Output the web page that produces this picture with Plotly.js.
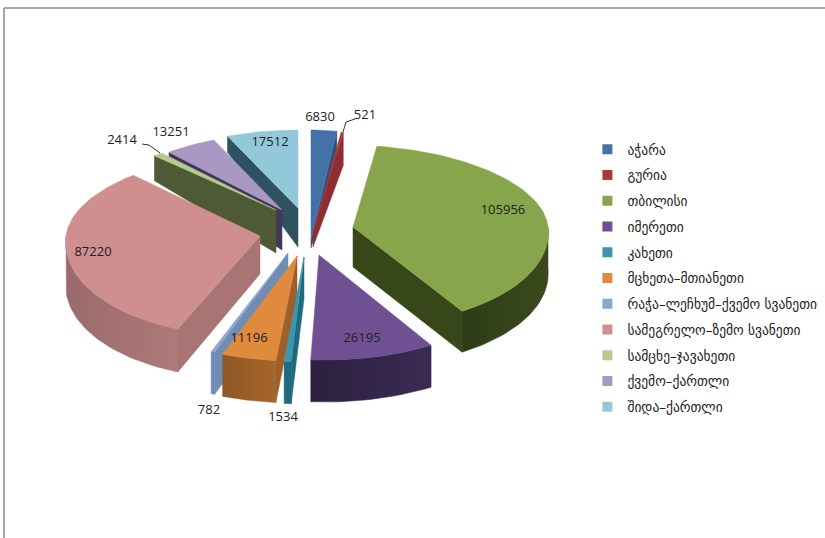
<!DOCTYPE html>
<html><head><meta charset="utf-8">
<script src="https://cdn.plot.ly/plotly-3.0.1.min.js"></script>
<style>html,body{margin:0;padding:0;background:#fff}#chart{width:825px;height:538px}</style>
</head><body><div id="chart"></div>
<script>
var regions = ['აჭარა','გურია','თბილისი','იმერეთი','კახეთი','მცხეთა–მთიანეთი','რაჭა–ლეჩხუმ–ქვემო სვანეთი','სამეგრელო–ზემო სვანეთი','სამცხე–ჯავახეთი','ქვემო–ქართლი','შიდა–ქართლი'];
var population = [6830,521,105956,26195,1534,11196,782,87220,2414,13251,17512];

var topColors  = ['#4472a8','#a83a3c','#87a54a','#6f5193','#3b97ad','#df8a3c','#8ea6cf','#cf8f8f','#b4cc8c','#a998c4','#93c8da'];
var wallColors = ['#2f5078','#8e2e30','#37471a','#32254a','#1f6a7c','#9c6028','#6f8cb5','#a87474','#4d5a35','#42365a','#2f5260'];
var rimGradient = {2:['#2e3c16','#3a4a1c'],3:['#2c2140','#3a2b52'],5:['#8f5825','#a5662b'],7:['#9a6a6a','#ae7a7a']};

// exploded-slice geometry, in picture pixels: apex x,y; radii; shear; wall depth at apex and rim
var explodeX = [311,313,353,319,304,297,288,260,276,282,298];
var explodeY = [240,232,227,255,257,256,253,236,210,210,208];
var radiusX  = [165,180,195,210,200,213,210,194,176,174,180];
var radiusBack  = [110,101,82,105,105,105,106,84,75,76,78];
var radiusFront = [110,101,98,105,105,105,106,100,75,76,78];
var shear    = [0,0,0.11,0.05,0,0,0,-0.12,0,0,0];
var depthApex= [8,15,40,42,42,42,42,38,43,40,39];
var depthRim = [25,33,41,42,42,42,42,43,25,25,16];
var paintOrder = [10,9,8,7,0,1,2,6,5,4,3];

var labelX = [320,365,503,362,283,249,209,93,122,171,270];
var labelY = [118,116,211,339,418,339,411,253,141,133,143];
var leaderX = [[355,346,343],[142,149,160]];
var leaderY = [[119,122,132],[144,145,153]];

var total = population.reduce(function(a,b){return a+b;},0);
var starts = [], ends = [], run = 0;
population.forEach(function(v){ starts.push(run/total*2*Math.PI); run += v; ends.push(run/total*2*Math.PI); });

function pt(i,a){
  var c = Math.cos(a), s = Math.sin(a);
  var dy = -c*(c>0 ? radiusBack[i] : radiusFront[i]);
  return [explodeX[i] + radiusX[i]*s + shear[i]*dy, explodeY[i] + dy];
}
function arc(i,a0,a1){
  var n = Math.max(2, Math.ceil((a1-a0)/0.03)), out = [];
  for (var k=0;k<=n;k++) out.push(pt(i,a0+(a1-a0)*k/n));
  return out;
}
function poly(pts,color,group,grad){
  var tr = {type:'scatter',mode:'lines',x:pts.map(function(p){return p[0];}),y:pts.map(function(p){return p[1];}),
    fill:'toself',fillcolor:color,line:{width:0.5,color:color},showlegend:false,legendgroup:group,hoverinfo:'skip'};
  if (grad) { tr.fillgradient={type:'horizontal',colorscale:[[0,grad[0]],[1,grad[1]]]}; }
  return tr;
}
var traces = [];
regions.forEach(function(r,i){
  traces.push({type:'scatter',mode:'markers',x:[null],y:[null],name:r,legendgroup:r,
    marker:{symbol:'square',size:10,color:topColors[i]},hoverinfo:'skip'});
});
paintOrder.forEach(function(i){
  var a0=starts[i], a1=ends[i], r=regions[i];
  var A=[explodeX[i],explodeY[i]], da=depthApex[i], dr=depthRim[i];
  var ab=[A[0],A[1]+da];
  function wall(a){ var p=pt(i,a); traces.push(poly([A,p,[p[0],p[1]+dr],ab,A],wallColors[i],r)); }
  if (Math.sin(a0)<0) wall(a0);
  if (Math.sin(a1)>0) wall(a1);
  var f0=Math.max(a0,Math.PI/2), f1=Math.min(a1,1.5*Math.PI);
  if (f1>f0){
    var upper=arc(i,f0,f1), lower=upper.map(function(p){return [p[0],p[1]+dr];}).reverse();
    traces.push(poly(upper.concat(lower,[upper[0]]),wallColors[i],r,rimGradient[i]));
  }
  traces.push(poly([A].concat(arc(i,a0,a1),[A]),topColors[i],r));
});
leaderX.forEach(function(x,k){
  traces.push({type:'scatter',mode:'lines',x:x,y:leaderY[k],line:{color:'#333',width:1},showlegend:false,hoverinfo:'skip'});
});
traces.push({type:'scatter',mode:'text',x:labelX,y:labelY,text:population.map(String),textposition:'middle center',
  textfont:{family:'Open Sans, Liberation Sans',size:13,color:'#222'},showlegend:false,hoverinfo:'skip'});

var layout = {
  width:825,height:538,margin:{l:0,r:0,t:0,b:0},paper_bgcolor:'#fff',plot_bgcolor:'#fff',
  xaxis:{range:[0,825],visible:false,fixedrange:true},
  yaxis:{range:[538,0],visible:false,fixedrange:true},
  legend:{x:0.712,y:0.751,xanchor:'left',yanchor:'top',tracegroupgap:5.2,bgcolor:'rgba(0,0,0,0)',
    font:{family:'DejaVu Sans',size:13.5,color:'#222'}},
  shapes:[
    {type:'line',xref:'x',yref:'y',x0:4,x1:4,y0:8,y1:538,line:{color:'#8a8a8a',width:1.5}},
    {type:'line',xref:'x',yref:'y',x0:4,x1:825,y0:8,y1:8,line:{color:'#8a8a8a',width:1.5}}
  ]
};
Plotly.newPlot('chart',traces,layout,{staticPlot:true,displayModeBar:false});
</script></body></html>
